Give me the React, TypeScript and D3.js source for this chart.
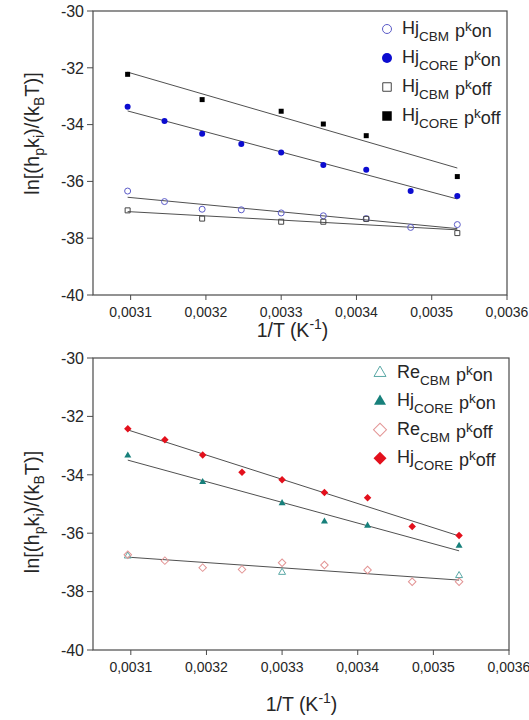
import React from 'react';
import * as d3 from 'd3';

// ---------- data ----------
const invTAll = [0.003096, 0.003145, 0.003195, 0.003247, 0.0033, 0.003356, 0.003413, 0.003472, 0.003534];
const invTSub = [0.003096, 0.003195, 0.0033, 0.003356, 0.003413, 0.003534];
const invTRe = [0.003096, 0.0033, 0.003534];

const xTicks = [0.0031, 0.0032, 0.0033, 0.0034, 0.0035, 0.0036];
const xTickLabels = ['0,0031', '0,0032', '0,0033', '0,0034', '0,0035', '0,0036'];
const yTicks = [-40, -38, -36, -34, -32, -30];
const yTickLabels = ['-40', '-38', '-36', '-34', '-32', '-30'];

// top panel
const topHjCbmKon = [-36.34, -36.71, -36.98, -37.0, -37.11, -37.21, -37.31, -37.62, -37.52];
const topHjCoreKon = [-33.37, -33.87, -34.32, -34.68, -34.98, -35.42, -35.59, -36.34, -36.51];
const topHjCbmKoff = [-37.02, -37.31, -37.42, -37.42, -37.32, -37.82];
const topHjCoreKoff = [-32.23, -33.12, -33.53, -33.98, -34.39, -35.83];

// bottom panel
const botReCbmKon = [-36.78, -37.34, -37.45];
const botHjCoreKon = [-33.34, -34.25, -34.97, -35.6, -35.74, -36.43];
const botReCbmKoff = [-36.74, -36.94, -37.18, -37.24, -37.01, -37.09, -37.26, -37.66, -37.66];
const botHjCoreKoff = [-32.42, -32.8, -33.32, -33.91, -34.17, -34.61, -34.79, -35.77, -36.08];

const FONT = '"Liberation Sans", Arial, sans-serif';

type Shape = 'circle' | 'square' | 'triangle' | 'diamond';
interface Series {
  xs: number[];
  ys: number[];
  shape: Shape;
  color: string;
  filled: boolean;
  fit: boolean;
  main: string;
  sub: string;
  k: string;
}

const topSeries: Series[] = [
  { xs: invTAll, ys: topHjCbmKon, shape: 'circle', color: '#5b5bc8', filled: false, fit: true, main: 'Hj', sub: 'CBM', k: 'on' },
  { xs: invTAll, ys: topHjCoreKon, shape: 'circle', color: '#0c0cd0', filled: true, fit: true, main: 'Hj', sub: 'CORE', k: 'on' },
  { xs: invTSub, ys: topHjCbmKoff, shape: 'square', color: '#444', filled: false, fit: true, main: 'Hj', sub: 'CBM', k: 'off' },
  { xs: invTSub, ys: topHjCoreKoff, shape: 'square', color: '#000', filled: true, fit: true, main: 'Hj', sub: 'CORE', k: 'off' },
];

const botSeries: Series[] = [
  { xs: invTRe, ys: botReCbmKon, shape: 'triangle', color: '#5aa8a6', filled: false, fit: false, main: 'Re', sub: 'CBM', k: 'on' },
  { xs: invTSub, ys: botHjCoreKon, shape: 'triangle', color: '#17807b', filled: true, fit: true, main: 'Hj', sub: 'CORE', k: 'on' },
  { xs: invTAll, ys: botReCbmKoff, shape: 'diamond', color: '#e39595', filled: false, fit: true, main: 'Re', sub: 'CBM', k: 'off' },
  { xs: invTAll, ys: botHjCoreKoff, shape: 'diamond', color: '#e3101c', filled: true, fit: true, main: 'Hj', sub: 'CORE', k: 'off' },
];

function fitLine(xs: number[], ys: number[]) {
  const mx = d3.mean(xs) as number;
  const my = d3.mean(ys) as number;
  let sxy = 0;
  let sxx = 0;
  xs.forEach((x, i) => {
    sxy += (x - mx) * (ys[i] - my);
    sxx += (x - mx) * (x - mx);
  });
  const b = sxy / sxx;
  const a = my - b * mx;
  const x0 = d3.min(xs) as number;
  const x1 = d3.max(xs) as number;
  return [
    [x0, a + b * x0],
    [x1, a + b * x1],
  ];
}

function symbolPath(shape: Shape, size: number) {
  if (shape === 'circle') return d3.symbol(d3.symbolCircle, Math.PI * (size / 2) ** 2)() as string;
  if (shape === 'square') return d3.symbol(d3.symbolSquare, size * size)() as string;
  if (shape === 'triangle') {
    const s = size;
    const h = (s * Math.sqrt(3)) / 2;
    return d3.symbol(d3.symbolTriangle, (s * h) / 2)() as string;
  }
  const side = size / Math.SQRT2;
  return d3.symbol(d3.symbolSquare, side * side)() as string;
}

function Marker({ shape, x, y, size, color, filled, sw = 1 }: { shape: Shape; x: number; y: number; size: number; color: string; filled: boolean; sw?: number }) {
  const rot = shape === 'diamond' ? ' rotate(45)' : '';
  return (
    <path
      d={symbolPath(shape, size)}
      transform={`translate(${x},${y})${rot}`}
      fill={filled ? color : 'white'}
      fillOpacity={filled ? 1 : 0}
      stroke={color}
      strokeWidth={filled ? 0 : sw}
    />
  );
}

interface PanelProps {
  series: Series[];
  left: number;
  right: number;
  top: number;
  bottom: number;
  tickBaseline: number;
  titleX: number;
  titleBaseline: number;
  yTitleX: number;
  yTitleY: number;
  legendSymX: number;
  legendTextX: number;
  legendY0: number;
  legendStep: number;
  markerSizes: Record<string, number>;
  legendSizes: Record<string, number>;
}

function Panel(p: PanelProps) {
  const x = d3.scaleLinear().domain([0.00305, 0.0036]).range([p.left, p.right]);
  const y = d3.scaleLinear().domain([-40, -30]).range([p.bottom, p.top]);
  const axisColor = '#4a4a4a';
  const textColor = '#262626';
  return (
    <g fontFamily={FONT}>
      <rect x={p.left} y={p.top} width={p.right - p.left} height={p.bottom - p.top} fill="none" stroke={axisColor} strokeWidth={1.2} />
      {xTicks.map((t, i) => (
        <g key={'xt' + i}>
          <line x1={x(t)} x2={x(t)} y1={p.bottom} y2={p.bottom + 5} stroke={axisColor} strokeWidth={1} />
          <text x={x(t)} y={p.tickBaseline} textAnchor="middle" fontSize={14} fill={textColor}>
            {xTickLabels[i]}
          </text>
        </g>
      ))}
      {yTicks.map((t, i) => (
        <g key={'yt' + i}>
          <line x1={p.left - 6} x2={p.left} y1={y(t)} y2={y(t)} stroke={axisColor} strokeWidth={1} />
          <text x={p.left - 9} y={y(t)} dy="0.36em" textAnchor="end" fontSize={16} fill={textColor}>
            {yTickLabels[i]}
          </text>
        </g>
      ))}
      <text x={p.titleX} y={p.titleBaseline} textAnchor="middle" fontSize={19.5} fill={textColor}>
        1/T (K
        <tspan fontSize={14} dy={-8}>-1</tspan>
        <tspan dy={8}>)</tspan>
      </text>
      <text transform={`translate(${p.yTitleX},${p.yTitleY}) rotate(-90)`} textAnchor="middle" fontSize={20} fill={textColor}>
        ln[(h
        <tspan fontSize={14} dy={5}>p</tspan>
        <tspan dy={-5}>k</tspan>
        <tspan fontSize={14} dy={5}>i</tspan>
        <tspan dy={-5}>)/(k</tspan>
        <tspan fontSize={14} dy={5}>B</tspan>
        <tspan dy={-5}>T)]</tspan>
      </text>
      {p.series.filter((s) => s.fit).map((s, i) => {
        const pts = fitLine(s.xs, s.ys);
        return (
          <line
            key={'fit' + i}
            x1={x(pts[0][0])}
            y1={y(pts[0][1])}
            x2={x(pts[1][0])}
            y2={y(pts[1][1])}
            stroke="#3c3c3c"
            strokeWidth={0.9}
          />
        );
      })}
      {p.series.map((s, si) =>
        s.xs.map((xv, i) => (
          <Marker
            key={'m' + si + '-' + i}
            shape={s.shape}
            x={x(xv)}
            y={y(s.ys[i])}
            size={p.markerSizes[s.shape + (s.filled ? 'F' : 'O')]}
            color={s.color}
            filled={s.filled}
          />
        ))
      )}
      {p.series.map((s, i) => {
        const cy = p.legendY0 + i * p.legendStep;
        return (
          <g key={'lg' + i}>
            <Marker
              shape={s.shape}
              x={p.legendSymX}
              y={cy}
              size={p.legendSizes[s.shape + (s.filled ? 'F' : 'O')]}
              color={s.color}
              filled={s.filled}
              sw={1}
            />
            <text x={p.legendTextX} y={cy + 5} fontSize={18} fill={textColor}>
              {s.main}
              <tspan fontSize={13.5} dy={7}>{s.sub}</tspan>
              <tspan dx={6} dy={-4}>p</tspan>
              <tspan fontSize={13.5} dy={-6}>k</tspan>
              <tspan dy={6}>{s.k}</tspan>
            </text>
          </g>
        );
      })}
    </g>
  );
}

export default function App() {
  return (
    <svg
      width={529}
      height={720}
      viewBox="0 0 529 720"
      style={{ position: 'absolute', left: 0, top: 0, background: 'white' }}
    >
      <rect x={0} y={0} width={529} height={720} fill="white" />
      <Panel
        series={topSeries}
        left={93}
        right={507}
        top={11}
        bottom={295}
        tickBaseline={317}
        titleX={292.5}
        titleBaseline={337}
        yTitleX={39}
        yTitleY={133.5}
        legendSymX={387}
        legendTextX={402}
        legendY0={29}
        legendStep={29}
        markerSizes={{ circleF: 6, circleO: 6, squareF: 5, squareO: 5 }}
        legendSizes={{ circleF: 10, circleO: 9, squareF: 9.5, squareO: 8.5 }}
      />
      <Panel
        series={botSeries}
        left={93}
        right={509}
        top={358}
        bottom={650}
        tickBaseline={672}
        titleX={301.5}
        titleBaseline={711}
        yTitleX={39}
        yTitleY={512}
        legendSymX={380}
        legendTextX={397}
        legendY0={373}
        legendStep={28.4}
        markerSizes={{ triangleF: 7, triangleO: 7, diamondF: 7.5, diamondO: 7.5 }}
        legendSizes={{ triangleF: 12, triangleO: 12, diamondF: 13, diamondO: 13 }}
      />
    </svg>
  );
}
